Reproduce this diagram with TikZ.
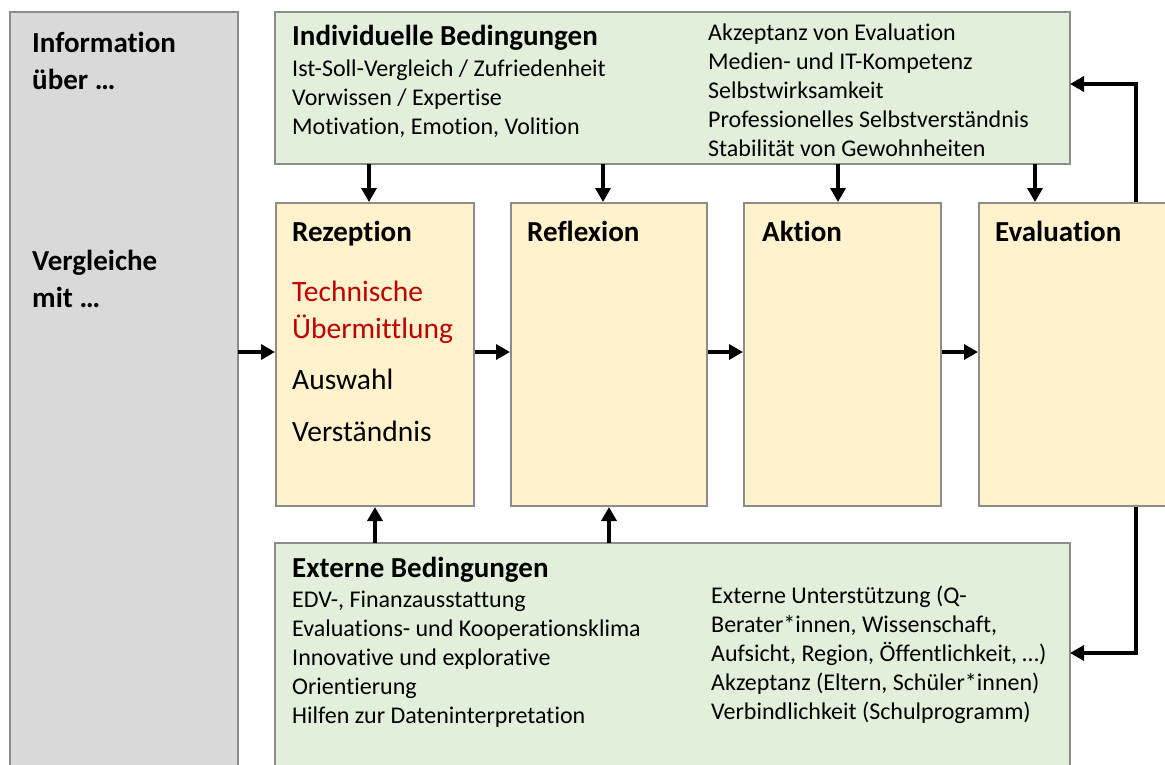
\documentclass[tikz,border=0pt]{standalone}
\usepackage{fontspec}
\setmainfont{Carlito}[Ligatures=NoCommon]
\usetikzlibrary{arrows.meta}
\definecolor{boxline}{HTML}{8C8C8C}
\definecolor{grayfill}{HTML}{D9D9D9}
\definecolor{greenfill}{HTML}{E2EFDA}
\definecolor{orangefill}{HTML}{FFF2CC}
\definecolor{darkred}{HTML}{C00000}
\newcommand{\blk}[1]{\begin{tabular}[t]{@{}l@{}}#1\end{tabular}}
\tikzset{
  panel/.style={draw=boxline, line width=2pt},
  graypanel/.style={panel, fill=grayfill},
  greenpanel/.style={panel, fill=greenfill},
  stagebox/.style={panel, fill=orangefill},
  bodytxt/.style={inner sep=0pt, anchor=base west, font=\fontsize{24}{29}\selectfont},
  headtxt/.style={inner sep=0pt, anchor=base west, font=\fontsize{29}{33}\selectfont\bfseries},
  bigtxt/.style={inner sep=0pt, anchor=base west, font=\fontsize{29.5}{37}\selectfont},
  bigbold/.style={inner sep=0pt, anchor=base west, font=\fontsize{29}{37}\selectfont\bfseries},
  arr/.style={line width=3.3pt, -{Triangle[length=14pt,width=15pt]}},
}
\begin{document}
\begin{tikzpicture}[x=1pt, y=-1pt]
\useasboundingbox (0,0) rectangle (1165,764);
\clip (0,0) rectangle (1165,764);
\fill[white] (0,0) rectangle (1165,764);

% frames
\draw[graypanel] (10,12) rectangle (238,800);
\draw[greenpanel] (275,12) rectangle (1070,164);
\draw[greenpanel] (275,543) rectangle (1070,800);
\coordinate (infoE) at (238,352);
\coordinate (indSW) at (275,164);
\coordinate (indE) at (1070,84);
\coordinate (extN) at (275,543);
\coordinate (extE) at (1070,653);

\node[stagebox, minimum width=198pt, minimum height=303pt, anchor=north west, inner sep=0pt] (rez) at (275,202) {};
\node[stagebox, minimum width=196pt, minimum height=303pt, anchor=north west, inner sep=0pt] (ref) at (510,202) {};
\node[stagebox, minimum width=197pt, minimum height=303pt, anchor=north west, inner sep=0pt] (akt) at (743,202) {};
\node[stagebox, minimum width=240pt, minimum height=303pt, anchor=north west, inner sep=0pt] (eva) at (978,202) {};

% left column labels
\node[bigbold] (infotxt) at (32,52) {\blk{Information\\über …}};
\node[bigbold] (vgltxt) at (32,270) {\blk{Vergleiche\\mit …}};

% individual conditions
\node[headtxt] (indhead) at (292,45) {Individuelle Bedingungen};
\node[bodytxt] (indleft) at (292,76) {\blk{Ist-Soll-Vergleich / Zufriedenheit\\Vorwissen / Expertise\\Motivation, Emotion, Volition}};
\node[bodytxt] (indright) at (708,40) {\blk{Akzeptanz von Evaluation\\Medien- und IT-Kompetenz\\Selbstwirksamkeit\\Professionelles Selbstverständnis\\Stabilität von Gewohnheiten}};

% stage titles
\node[headtxt] (rezt) at (292,241) {Rezeption};
\node[headtxt] (reft) at (527,241) {Reflexion};
\node[headtxt] (aktt) at (762,241) {Aktion};
\node[headtxt] (evat) at (995,241) {Evaluation};
\node[bigtxt, text=darkred] (rezred) at (292,301) {\blk{Technische\\Übermittlung}};
\node[bigtxt] (rezaus) at (292,389) {Auswahl};
\node[bigtxt] (rezver) at (292,441) {Verständnis};

% external conditions
\node[headtxt] (exthead) at (292,577) {Externe Bedingungen};
\node[bodytxt] (extleft) at (292,607) {\blk{EDV-, Finanzausstattung\\Evaluations- und Kooperationsklima\\Innovative und explorative\\Orientierung\\Hilfen zur Dateninterpretation}};
\node[bodytxt] (extright) at (711,603) {\blk{Externe Unterstützung (Q-\\Berater*innen, Wissenschaft,\\Aufsicht, Region, Öffentlichkeit, …)\\Akzeptanz (Eltern, Schüler*innen)\\Verbindlichkeit (Schulprogramm)}};

% flow along the stages
\draw[arr] (infoE) -- (rez.west |- infoE);
\draw[arr] (rez.east |- infoE) -- (ref.west |- infoE);
\draw[arr] (ref.east |- infoE) -- (akt.west |- infoE);
\draw[arr] (akt.east |- infoE) -- (eva.west |- infoE);

% influence of individual conditions
\draw[arr] (indSW -| 369,0) -- (rez.north -| 369,0);
\draw[arr] (indSW -| 603,0) -- (ref.north -| 603,0);
\draw[arr] (indSW -| 838,0) -- (akt.north -| 838,0);
\draw[arr] (indSW -| 1035,0) -- (eva.north -| 1035,0);

% influence of external conditions
\draw[arr] (extN -| 375,0) -- (rez.south -| 375,0);
\draw[arr] (extN -| 609,0) -- (ref.south -| 609,0);

% feedback from evaluation
\draw[arr] (eva.north -| 1136,0) |- (indE);
\draw[arr] (eva.south -| 1136,0) |- (extE);
\end{tikzpicture}
\end{document}
